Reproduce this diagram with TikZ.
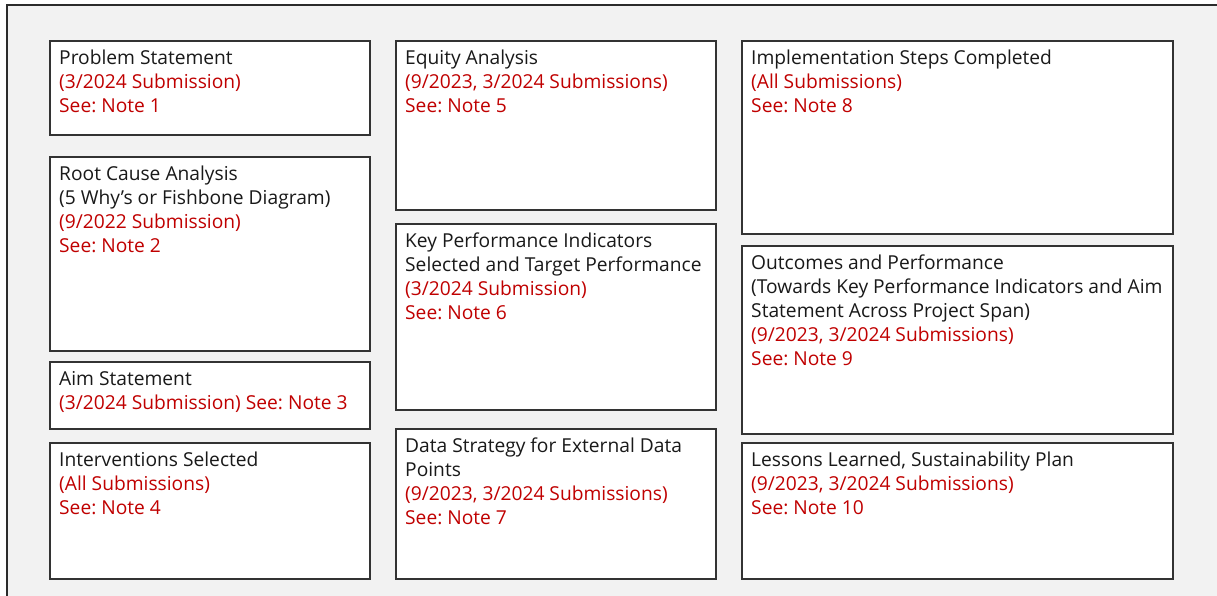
\documentclass[tikz,border=0pt]{standalone}
\usepackage{fontspec}
\setmainfont{Open Sans}
\frenchspacing
\newcommand{\firstline}{\rule{0pt}{18pt}}
\begin{document}
\definecolor{pagebg}{HTML}{F2F2F2}
\definecolor{frameline}{HTML}{2B2B2B}
\definecolor{boxline}{HTML}{333333}
\definecolor{note}{HTML}{C00000}
\begin{tikzpicture}[x=1pt,y=-1pt,
  panel/.style={draw=boxline, fill=white, line width=1.6pt, inner sep=0pt,
    anchor=north west},
  txt/.style={inner sep=0pt, anchor=north west, align=left, text=black!90,
    font=\fontsize{19.2}{24}\selectfont},
]
\useasboundingbox (0,0) rectangle (1217,596);
\fill[white] (0,0) rectangle (1217,596);
\begin{scope}
  \clip (0,0) rectangle (1217,596);
  \filldraw[fill=pagebg, draw=frameline, line width=1.6pt] (7,5) rectangle (1240,620);
\end{scope}

% column 1
\node[panel, minimum width=320, minimum height=94]  (ps)  at (49,40)  {};
\node[panel, minimum width=320, minimum height=194] (rc)  at (49,156) {};
\node[panel, minimum width=320, minimum height=67]  (aim) at (49,361) {};
\node[panel, minimum width=320, minimum height=136] (int) at (49,442) {};
% column 2
\node[panel, minimum width=320, minimum height=169] (eq)  at (395,40)  {};
\node[panel, minimum width=320, minimum height=186] (kpi) at (395,223) {};
\node[panel, minimum width=320, minimum height=150] (ds)  at (395,428) {};
% column 3
\node[panel, minimum width=431, minimum height=193] (imp) at (741,40)  {};
\node[panel, minimum width=431, minimum height=188] (out) at (741,245) {};
\node[panel, minimum width=431, minimum height=136] (ll)  at (741,442) {};

% panel texts: first baseline 24pt below the panel top, 10pt in from the left
\node[txt] (ps-t) at ([shift={(10,6)}]ps.north west)
  {\firstline Problem Statement\\\textcolor{note}{(3/2024 Submission)}\\\textcolor{note}{See: Note 1}};
\node[txt] (rc-t) at ([shift={(10,6)}]rc.north west)
  {\firstline Root Cause Analysis\\(5 Why’s or Fishbone Diagram)\\\textcolor{note}{(9/2022 Submission)}\\\textcolor{note}{See: Note 2}};
\node[txt] (aim-t) at ([shift={(10,6)}]aim.north west)
  {\firstline Aim Statement\\\textcolor{note}{(3/2024 Submission) See: Note 3}};
\node[txt] (int-t) at ([shift={(10,6)}]int.north west)
  {\firstline Interventions Selected\\\textcolor{note}{(All Submissions)}\\\textcolor{note}{See: Note 4}};

\node[txt] (eq-t) at ([shift={(10,6)}]eq.north west)
  {\firstline Equity Analysis\\\textcolor{note}{(9/2023, 3/2024 Submissions)}\\\textcolor{note}{See: Note 5}};
\node[txt] (kpi-t) at ([shift={(10,6)}]kpi.north west)
  {\firstline Key Performance Indicators\\Selected and Target Performance\\\textcolor{note}{(3/2024 Submission)}\\\textcolor{note}{See: Note 6}};
\node[txt] (ds-t) at ([shift={(10,6)}]ds.north west)
  {\firstline Data Strategy for External Data\\Points\\\textcolor{note}{(9/2023, 3/2024 Submissions)}\\\textcolor{note}{See: Note 7}};

\node[txt] (imp-t) at ([shift={(10,6)}]imp.north west)
  {\firstline Implementation Steps Completed\\\textcolor{note}{(All Submissions)}\\\textcolor{note}{See: Note 8}};
\node[txt] (out-t) at ([shift={(10,6)}]out.north west)
  {\firstline Outcomes and Performance\\(Towards Key Performance Indicators and Aim\\Statement Across Project Span)\\\textcolor{note}{(9/2023, 3/2024 Submissions)}\\\textcolor{note}{See: Note 9}};
\node[txt] (ll-t) at ([shift={(10,6)}]ll.north west)
  {\firstline Lessons Learned, Sustainability Plan\\\textcolor{note}{(9/2023, 3/2024 Submissions)}\\\textcolor{note}{See: Note 10}};
\end{tikzpicture}
\end{document}
